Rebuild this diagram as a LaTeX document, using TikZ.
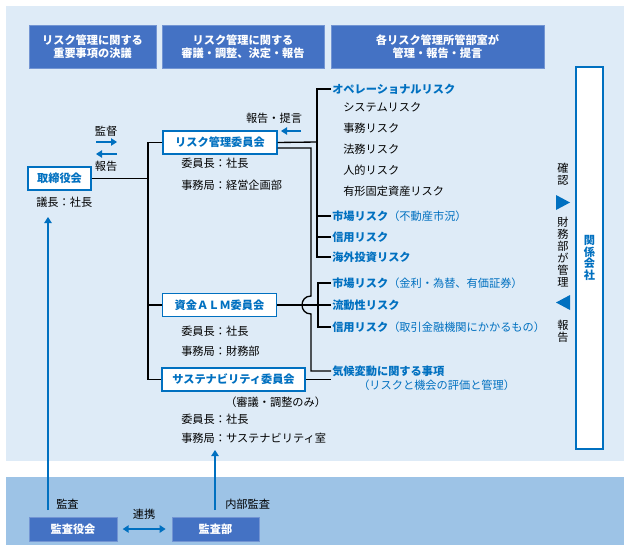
\documentclass[tikz,border=0pt]{standalone}
\usepackage{fontspec}
\setmainfont{Noto Sans CJK JP}
\usepackage{xcolor}
\usepackage{tikz}
\usetikzlibrary{arrows.meta,calc}
\usetikzlibrary{positioning}

\definecolor{panelA}{RGB}{222,235,247}
\definecolor{panelB}{RGB}{157,195,230}
\definecolor{hdrblue}{RGB}{68,114,196}
\definecolor{txtblue}{RGB}{0,112,192}

\tikzset{
  hdrbox/.style={fill=hdrblue, draw=hdrblue!75!white, line width=0.5pt, text=white, align=center, inner sep=0pt,
    font=\fontsize{8.4}{10}\selectfont\bfseries},
  wbox/.style={fill=white, draw=txtblue, line width=1.1pt, text=txtblue, inner sep=0pt, minimum height=17.25pt,
    font=\fontsize{8.4}{10}\selectfont\bfseries},
  bbox/.style={fill=hdrblue, draw=hdrblue!75!white, line width=0.5pt, text=white, inner sep=0pt, minimum height=18pt,
    font=\fontsize{8.4}{10}\selectfont\bfseries},
  txt/.style={anchor=west, inner sep=0.75pt, font=\fontsize{8.4}{10}\selectfont},
  btxt/.style={anchor=west, inner sep=0.75pt, text=txtblue, font=\fontsize{8.4}{10}\selectfont\bfseries},
  vtxt/.style={inner sep=0pt, align=center, font=\fontsize{8.4}{9}\selectfont},
  conn/.style={line width=1pt},
  barrow/.style={draw=txtblue, line width=1.5pt, -{Triangle[length=4.5pt,width=5.5pt]}},
}

\begin{document}
\begin{tikzpicture}[x=0.75pt,y=0.75pt,yscale=-1,xscale=1]
  \useasboundingbox (0,0) rectangle (630,552);

  %Shape: Rectangle [panels]
  \fill [panelA] (6,6) rectangle (624,461);
  \fill [panelB] (6,477) rectangle (624,545);

  %Shape: Header boxes
  \node [hdrbox, minimum width=95.25pt, minimum height=32.25pt] (hdA) at (92.5,46.5) {リスク管理に関する\\重要事項の決議};
  \node [hdrbox, minimum width=121.5pt, minimum height=32.25pt] (hdB) at (243,46.5) {リスク管理に関する\\審議・調整、決定・報告};
  \node [hdrbox, minimum width=159.75pt, minimum height=32.25pt] (hdC) at (437.5,46.5) {各リスク管理所管部室が\\管理・報告・提言};

  %Shape: Committee boxes
  \node [wbox, minimum width=47.25pt] (tori) at (59.5,178.5) {取締役会};
  \node [wbox, minimum width=85.5pt] (risk) at (220,142.5) {リスク管理委員会};
  \node [wbox, minimum width=85.5pt] (alm) at (219.5,305) {資金ＡＬＭ委員会};
  \node [wbox, minimum width=107.25pt] (sus) at (233.5,379.5) {サステナビリティ委員会};

  % Text Node
  \node [txt] (toriA) at (35,202) {議長：社長};
  \node [txt] (riskA) at (180,163) {委員長：社長};
  \node [txt] (riskB) at (180,185) {事務局：経営企画部};
  \node [txt] (almA) at (180,331) {委員長：社長};
  \node [txt] (almB) at (180,351) {事務局：財務部};
  \node [txt] (susC) at (224,402) {（審議・調整のみ）};
  \node [txt] (susA) at (180,419) {委員長：社長};
  \node [txt] (susB) at (180,438) {事務局：サステナビリティ室};

  % Text Node : risks under the risk committee
  \node [btxt] (ope) at (331,89) {オペレーショナルリスク};
  \node [txt] (opeA) at (342,107) {システムリスク};
  \node [txt] (opeB) at (342,128) {事務リスク};
  \node [txt] (opeC) at (342,149) {法務リスク};
  \node [txt] (opeD) at (342,170) {人的リスク};
  \node [txt] (opeE) at (342,191) {有形固定資産リスク};
  \node [btxt] (ichibaA) at (331,216) {市場リスク{\mdseries （不動産市況）}};
  \node [btxt] (shinA) at (331,237) {信用リスク};
  \node [btxt] (kaigai) at (331,257) {海外投資リスク};

  % Text Node : risks under the ALM committee
  \node [btxt] (ichibaB) at (331,283) {市場リスク{\mdseries （金利・為替、有価証券）}};
  \node [btxt] (ryudo) at (331,305) {流動性リスク};
  \node [btxt] (shinB) at (331,327) {信用リスク{\mdseries （取引金融機関にかかるもの）}};
  \node [btxt] (kiko) at (331,371) {気候変動に関する事項};
  \node [txt, text=txtblue] (kikoA) at (357,385) {（リスクと機会の評価と管理）};

  %Shape: Affiliates
  \node [draw=txtblue, fill=white, line width=1.1pt, minimum width=20.25pt, minimum height=286.5pt, inner sep=0pt,
    text=txtblue, align=center, font=\fontsize{8.4}{8.8}\selectfont\bfseries] (kankei) at (589.5,258) {関\\係\\会\\社};
  \node [vtxt] (kakunin) at (563,174) {確\\認};
  \node [vtxt] (zaimu) at (563,252.5) {財\\務\\部\\が\\管\\理};
  \node [vtxt] (hokoku) at (563,331) {報\\告};
  \fill [txtblue] (556,195) -- (570,202.5) -- (556,210) -- cycle;
  \fill [txtblue] (570,295) -- (556,302.5) -- (570,310) -- cycle;

  %Shape: Audit boxes
  \node [bbox, minimum width=66pt] (kansayaku) at (73,529) {監査役会};
  \node [bbox, minimum width=65.25pt] (kansabu) at (215.5,529) {監査部};

  % Text Node : arrow labels
  \node [txt, anchor=center] (kantokuL) at (106,131) {監督};
  \node [txt, anchor=center] (hokokuL) at (106,166) {報告};
  \node [txt, anchor=center] (teigenL) at (274,118) {報告・提言};
  \node [txt] (kansaL) at (55,504) {監査};
  \node [txt] (naibuL) at (224,504) {内部監査};
  \node [txt, anchor=center] (renkeiL) at (144,514) {連携};

  % Coordinates
  \coordinate (lb) at (148,379.5);
  \coordinate (rb) at (317,142);
  \coordinate (r2) at (311,148);
  \coordinate (hopA) at (311,296);
  \coordinate (hopB) at (311,314);
  \coordinate (ab) at (318,305);
  \coordinate (kA) at (96,142);
  \coordinate (kB) at (117,142);
  \coordinate (hA) at (117,154);
  \coordinate (hB) at (96,154);
  \coordinate (tA) at (301,131);
  \coordinate (tB) at (281,131);
  \coordinate (ka) at (48,217);
  \coordinate (kb) at (215,450);

  %Lines: left bus
  \draw [conn] (risk.west) -| (lb) -- (sus.west);
  \draw [conn] (alm.west) -- (alm.west -| lb);
  \draw [conn] (tori.east) -- (tori.east -| lb);

  %Lines: risk committee
  \draw [conn] (risk.east) -- (rb);
  \foreach \n in {ope,ichibaA,shinA,kaigai}
    \draw [conn] (\n.west) -| (rb);
  \draw [conn] (risk.east |- r2) -- (r2) -- (hopA) .. controls (299,296) and (299,314) .. (hopB) |- (kiko.west);

  %Lines: ALM committee
  \draw [conn] (alm.east) -- (ab);
  \foreach \n in {ichibaB,ryudo,shinB}
    \draw [conn] (\n.west) -| (ab);

  %Lines: sustainability committee
  \draw [conn] (sus.east) -- (sus.east -| kiko.west);

  %Arrows
  \draw [barrow] (kA) -- (kB);
  \draw [barrow] (hA) -- (hB);
  \draw [barrow] (tA) -- (tB);
  \draw [barrow, shorten <=5pt] (kansayaku.north -| ka) -- (ka);
  \draw [barrow, shorten <=5pt] (kansabu.north -| kb) -- (kb);
  \draw [draw=txtblue, line width=1.5pt, {Triangle[length=4.5pt,width=5.5pt]}-{Triangle[length=4.5pt,width=5.5pt]},
    shorten <=4pt, shorten >=4.5pt] (kansayaku.east) -- (kansabu.west);
\end{tikzpicture}
\end{document}
